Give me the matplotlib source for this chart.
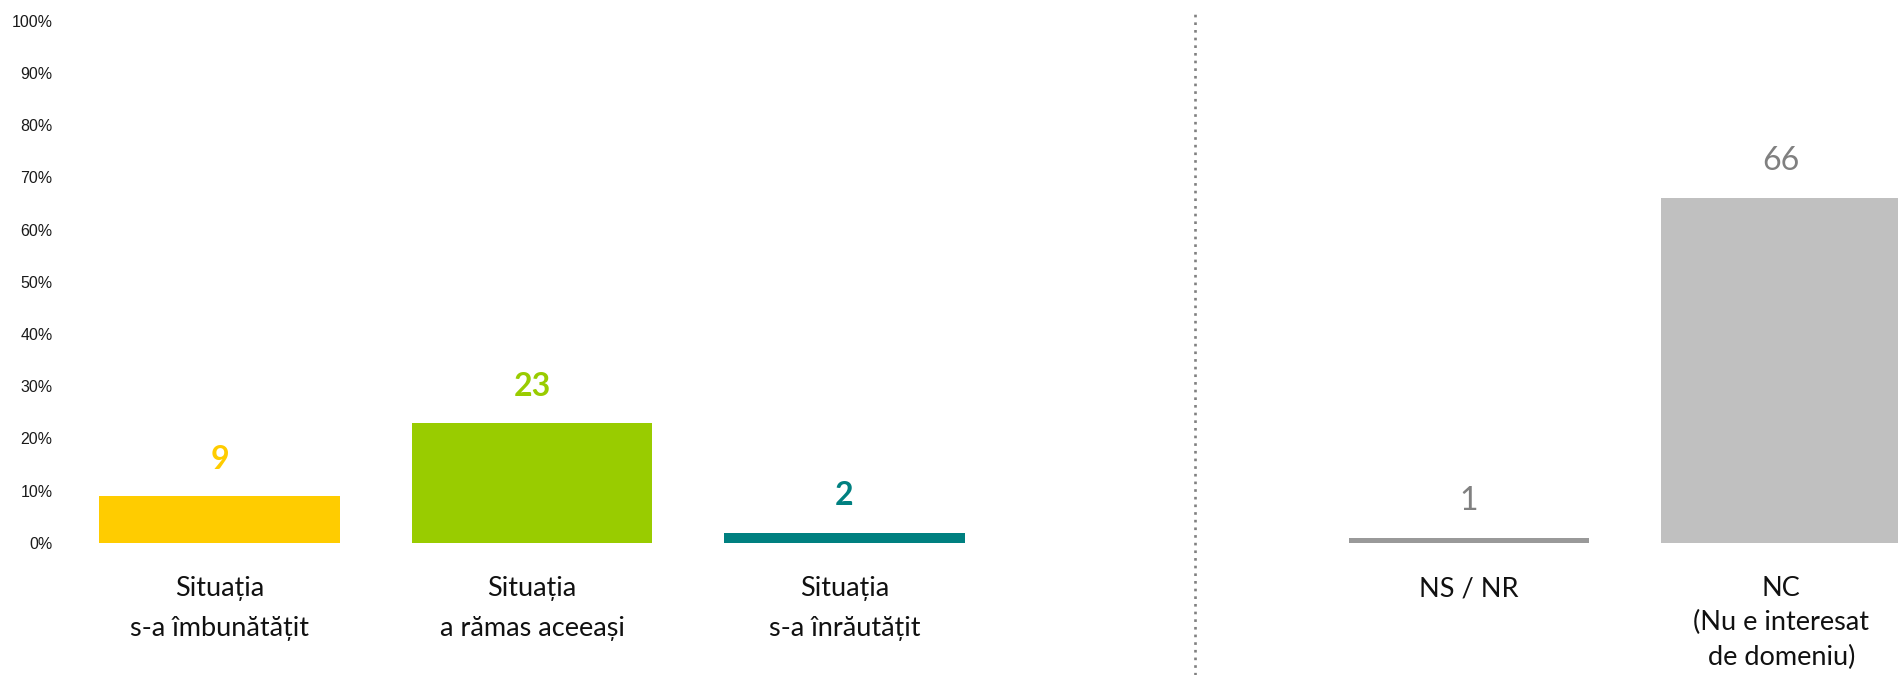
import matplotlib
matplotlib.use('Agg')
import matplotlib.pyplot as plt
from matplotlib.ticker import PercentFormatter

# survey answers (percent)
categories = ['Situația\ns-a îmbunătățit', 'Situația\na rămas aceeași', 'Situația\ns-a înrăutățit',
              'NS / NR', 'NC\n(Nu e interesat\nde domeniu)']
values = [9, 23, 2, 1, 66]
positions = [0, 1, 2, 4, 5]
bar_colors = ['#FFCC00', '#99CC00', '#008080', '#999999', '#C0C0C0']
label_colors = ['#FFCC00', '#99CC00', '#008080', '#808080', '#808080']
label_weights = ['bold', 'bold', 'bold', 'normal', 'normal']
y_ticks = [0, 10, 20, 30, 40, 50, 60, 70, 80, 90, 100]

fig = plt.figure(figsize=(18.98, 6.75), dpi=100)
ax = fig.add_axes([58 / 1898, 0.1956, 1 - 58 / 1898, 0.774])

ax.bar(positions, values, width=0.771, color=bar_colors)

for x, v, c, w in zip(positions, values, label_colors, label_weights):
    ax.annotate(str(v), xy=(x, v), xytext=(0, 26.5), textcoords='offset points',
                ha='center', va='center', fontsize=23, color=c, fontweight=w,
                family='Lato')

ax.set_xlim(-0.518, 5.374)
ax.set_ylim(0, 100)
ax.set_yticks(y_ticks)
ax.yaxis.set_major_formatter(PercentFormatter(decimals=0))
ax.tick_params(axis='y', length=0, pad=4, labelsize=11.5, labelcolor='#1a1a1a')
for t in ax.get_yticklabels():
    t.set_family('Liberation Sans')

ax.set_xticks(positions)
ax.set_xticklabels(categories, fontsize=19.5, family='Lato', color='#111111')
ax.tick_params(axis='x', length=0, pad=24)
for t in ax.get_xticklabels():
    t.set_linespacing(1.75)
ax.get_xticklabels()[-1].set_linespacing(1.45)

for s in ax.spines.values():
    s.set_visible(False)

# dotted separator between answers and non-answers
ax.axvline(3.123, ymin=-0.2527, ymax=1.016, clip_on=False, color='#808080',
           lw=1.9, linestyle=(0, (1, 1.9)))

fig.savefig('out.png', dpi=100)
